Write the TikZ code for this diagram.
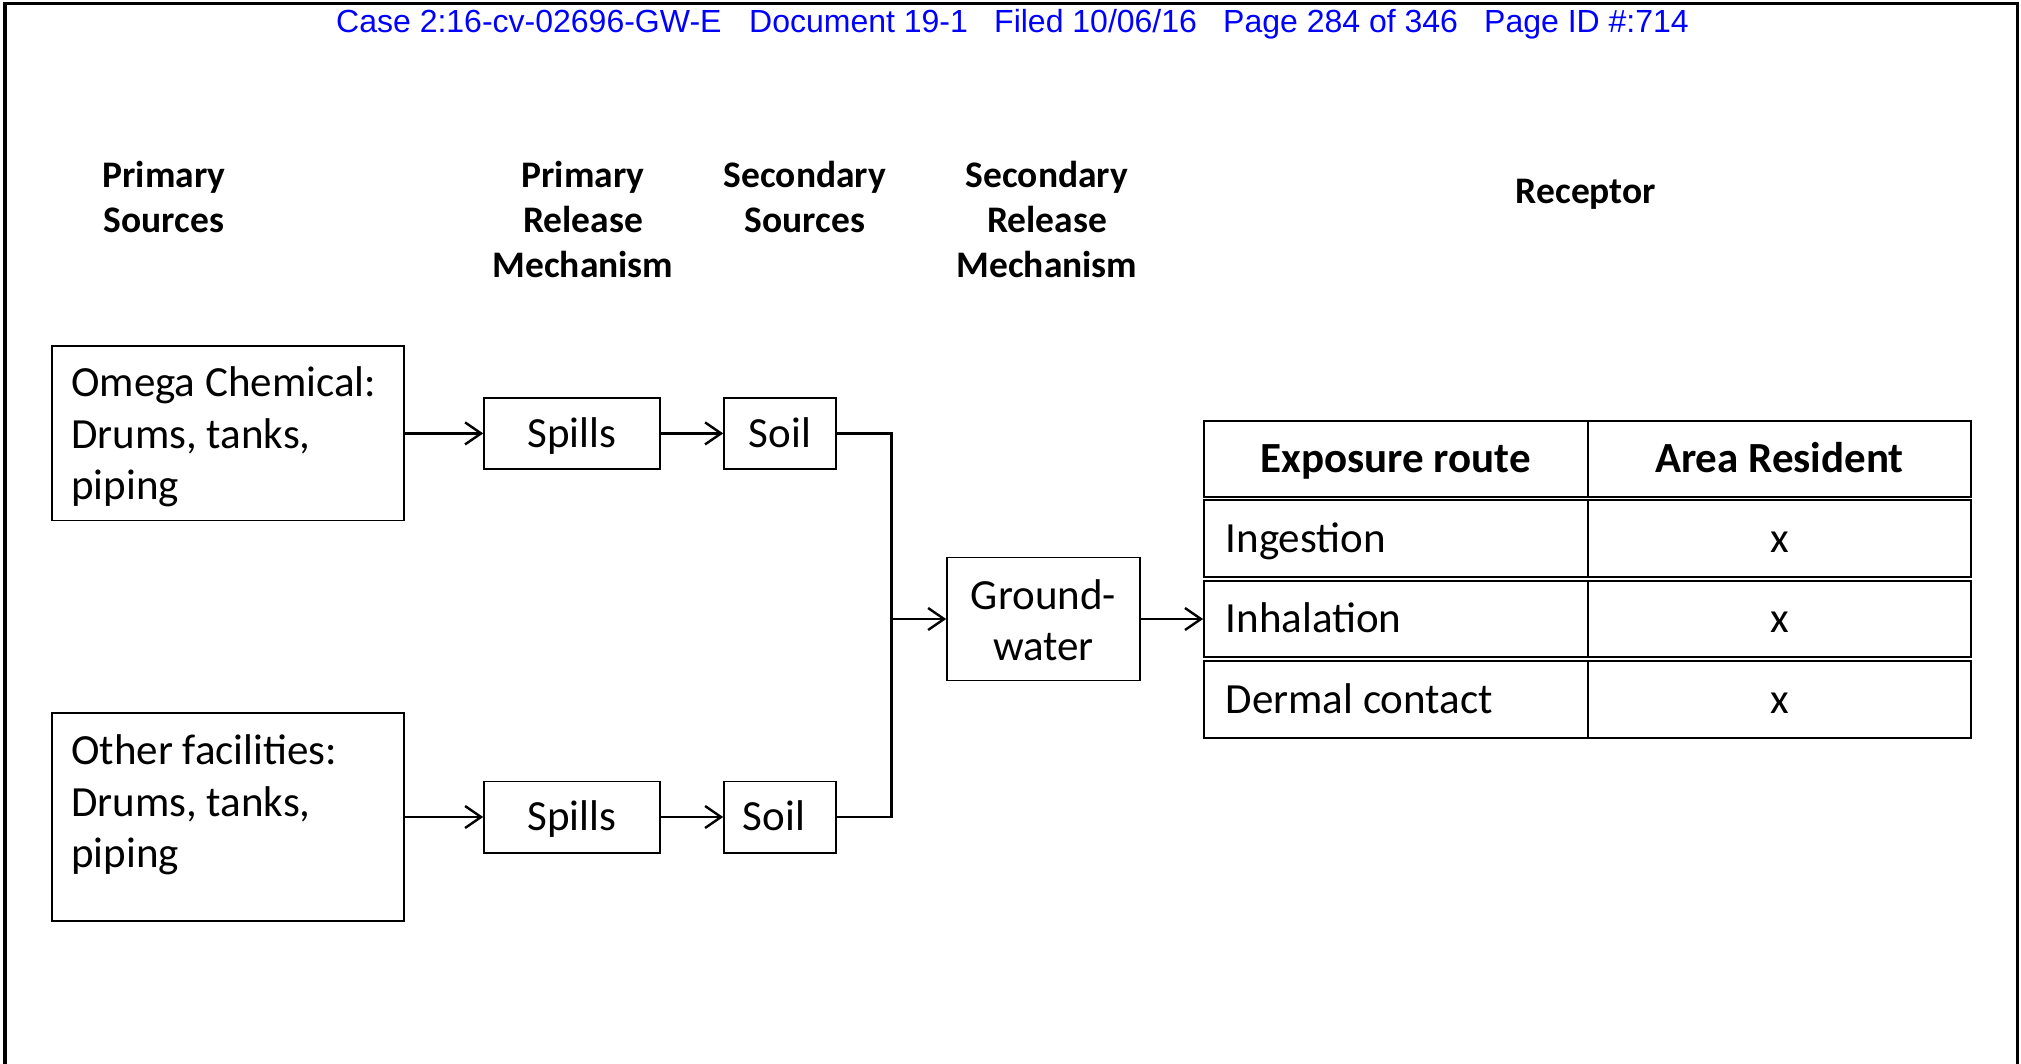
\documentclass[tikz,border=0pt]{standalone}
\usepackage{fontspec}
\setmainfont{Carlito}
\newfontfamily\hdrfont{Liberation Sans}
\usetikzlibrary{arrows.meta}
\begin{document}
\begin{tikzpicture}[x=1pt,y=-1pt,
  box/.style={draw=black, line width=1.6pt, inner sep=0pt, font=\fontsize{43}{51.5}\selectfont, text height=27.2pt, text depth=0pt},
  srcbox/.style={draw=black, line width=1.6pt, inner sep=0pt, minimum width=352pt},
  srctxt/.style={anchor=base west, inner sep=0pt, text width=330pt, align=flush left, font=\fontsize{43}{51.5}\selectfont},
  colhead/.style={anchor=base, inner sep=0pt, text width=200pt, align=center, font=\bfseries\fontsize{37.5}{45}\selectfont},
  cell/.style={draw=black, line width=1.8pt, minimum width=383.6pt, inner ysep=0pt, text height=27.2pt, text depth=0pt, font=\fontsize{43}{50}\selectfont},
  lcell/.style={cell, inner xsep=21.6pt, text width=340.4pt, align=flush left},
  ccell/.style={cell, inner xsep=0pt},
  hdcell/.style={cell, inner xsep=0pt, font=\bfseries\fontsize{43}{50}\selectfont},
  conn/.style={line width=2.6pt},
  arr/.style={line width=2.4pt, -{Straight Barb[length=16pt,width=22pt,line width=2.4pt]}},
  bluehdr/.style={anchor=base west, inner sep=0pt, text=blue, font=\hdrfont\fontsize{32}{38}\selectfont}
]
\useasboundingbox (0,0) rectangle (2021,1063);
% page frame
\draw[line width=3.5pt] (5,1100) -- (5,3.5) -- (2017.5,3.5) -- (2017.5,1100);

% blue header line
\node[bluehdr] (c1) at (336,32.7) {Case 2:16-cv-02696-GW-E};
\node[bluehdr] (c2) at (749,32.7) {Document 19-1};
\node[bluehdr] (c3) at (994,32.7) {Filed 10/06/16};
\node[bluehdr] (c4) at (1223,32.7) {Page 284 of 346};
\node[bluehdr] (c5) at (1484,32.7) {Page ID \#:714};

% column headings
\node[colhead] (h1) at (164,187.5) {Primary\\Sources};
\node[colhead] (h2) at (583,187.5) {Primary\\Release\\Mechanism};
\node[colhead] (h3) at (805,187.5) {Secondary\\Sources};
\node[colhead] (h4) at (1047,187.5) {Secondary\\Release\\Mechanism};
\node[colhead] (h5) at (1586,203.5) {Receptor};

% primary sources
\node[srcbox, minimum height=174.5pt] (omega) at (228,433.4) {};
\node[srctxt] (omegatxt) at (71,396.5) {Omega Chemical:\\Drums, tanks,\\piping};
\node[srcbox, minimum height=208.4pt] (other) at (228,817) {};
\node[srctxt] (othertxt) at (71,764.5) {Other facilities:\\Drums, tanks,\\piping};

% release / secondary sources
\node[box, minimum width=176pt, minimum height=71.4pt] (spills1) at (572,433.4) {Spills};
\node[box, minimum width=112pt, minimum height=71.4pt] (soil1) at (780,433.4) {Soil};
\node[box, minimum width=176pt, minimum height=71.4pt] (spills2) at (572,817) {Spills};
\node[box, minimum width=112pt, minimum height=71.4pt] (soil2) at (780,817) {\hspace*{-12pt}Soil};
\node[box, minimum width=193pt, minimum height=123pt, text width=193pt, align=center, text height=32.2pt, text depth=51.5pt] (gw) at (1043.5,619) {Ground-\\water};

% receptor table
\node[hdcell, minimum height=76.6pt] (th1) at (1395.8,459) {Exposure route};
\node[hdcell, minimum height=76.6pt] (th2) at (1779.4,459) {Area Resident};
\node[lcell, minimum height=77pt] (r1l) at (1395.8,538.5) {Ingestion};
\node[ccell, minimum height=77pt] (r1r) at (1779.4,538.5) {x};
\node[lcell, minimum height=76.4pt] (r2l) at (1395.8,619) {Inhalation};
\node[ccell, minimum height=76.4pt] (r2r) at (1779.4,619) {x};
\node[lcell, minimum height=77.3pt] (r3l) at (1395.8,699.4) {Dermal contact};
\node[ccell, minimum height=77.3pt] (r3r) at (1779.4,699.4) {x};

% connectors
\draw[arr] (omega.east) -- (spills1.west);
\draw[arr] (spills1.east) -- (soil1.west);
\draw[arr] (other.east) -- (spills2.west);
\draw[arr] (spills2.east) -- (soil2.west);
\coordinate (jn) at (891.6,619);
\draw[conn, line join=miter] (soil1.east) -- (jn |- soil1.east) -- (jn |- soil2.east) -- (soil2.east);
\draw[arr] (jn) -- (gw.west);
\draw[arr] (gw.east) -- (r2l.west);
\end{tikzpicture}
\end{document}
